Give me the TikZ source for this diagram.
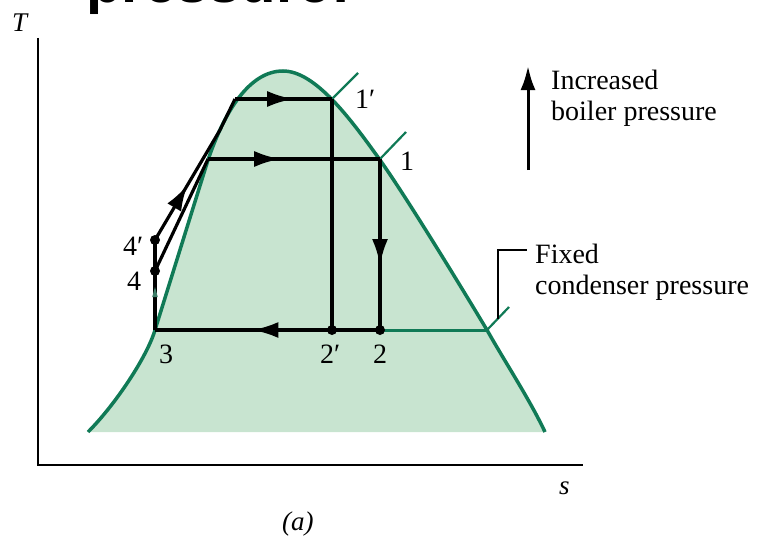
\documentclass[tikz,border=0pt]{standalone}
\usepackage{fontspec}
\setmainfont{Liberation Serif}
\setsansfont{Liberation Sans}
\usetikzlibrary{arrows.meta,decorations.markings}
\definecolor{domeline}{RGB}{16,122,86}
\definecolor{domefill}{RGB}{200,228,208}

\begin{document}
\begin{tikzpicture}[>=Latex,x={(1pt,0pt)},y={(0pt,-1pt)},
  cyc/.style={line width=3.2pt,black},
  midarrow/.style={postaction={decorate},decoration={markings,
    mark=at position #1 with {\arrow{Latex[length=26pt,width=16pt]}}}},
  lbl/.style={anchor=base west,inner sep=0pt,font=\fontsize{28}{30}\selectfont},
  note/.style={anchor=north west,inner sep=0pt,align=left,font=\fontsize{28}{31}\selectfont}]
  \useasboundingbox (0,0) rectangle (757,535);
  \clip (0,0) rectangle (757,535);
  % cut-off slide title
  \node[anchor=base west,inner sep=0pt,font=\fontsize{58}{60}\sffamily\bfseries] (title) at (86,3) {pressure:};
  % axes
  \coordinate (ytop) at (38,38);
  \coordinate (orig) at (38,465);
  \coordinate (xend) at (583,465);
  \draw[line width=2pt] (ytop) -- (orig) -- (xend);
  \node[lbl,font=\fontsize{27}{30}\selectfont\itshape] (Tlab) at (12,32) {T};
  \node[lbl,font=\fontsize{27}{30}\selectfont\itshape] (slab) at (559,494) {s};
  \node[lbl,font=\fontsize{27}{30}\selectfont\itshape] (alab) at (282,530) {(a)};
  % vapour dome
  \fill[domefill] (88,432) .. controls (115,405) and (147,357) .. (155,330) -- (208,160)
    .. controls (225,110) and (250,71) .. (283,71) .. controls (315,71) and (350,118) .. (380,160)
    .. controls (405,195) and (460,285) .. (487,330) .. controls (505,362) and (530,400) .. (545,432) -- cycle;
  \draw[domeline,line width=3.5pt] (88,432) .. controls (115,405) and (147,357) .. (155,330) -- (208,160)
    .. controls (225,110) and (250,71) .. (283,71) .. controls (315,71) and (350,118) .. (380,160)
    .. controls (405,195) and (460,285) .. (487,330) .. controls (505,362) and (530,400) .. (545,432);
  % state points
  \coordinate (p1) at (380,159);
  \coordinate (p1p) at (332,99);
  \coordinate (p2) at (380,330);
  \coordinate (p2p) at (332,330);
  \coordinate (p3) at (155,330);
  \coordinate (p4) at (155,271);
  \coordinate (p4p) at (155,240);
  \coordinate (a1) at (208,159);
  \coordinate (b1) at (220,130);
  \coordinate (b2) at (235,99);
  \coordinate (g) at (487,330);
  % isobar ticks
  \coordinate (t1) at (406,132);
  \coordinate (t1p) at (358,73);
  \coordinate (tg) at (509,307);
  \draw[domeline,line width=2.2pt] (p1) -- (t1) (p1p) -- (t1p) (g) -- (tg);
  \draw[domeline,line width=3pt] (p2) -- (g);
  % cycles
  \draw[cyc] (p3) -- (p4);
  \fill[domeline!60!gray] (155,287) -- (152.2,297) -- (157.8,297) -- cycle;
  \draw[cyc] (p4) -- (p4p);
  \draw[cyc] (p4) -- (a1);
  \draw[cyc,midarrow=0.42] (a1) -- (p1);
  \draw[cyc,midarrow=0.62] (p1) -- (p2);
  \draw[cyc] (p2) -- (p2p);
  \draw[cyc,midarrow=0.45] (p2p) -- (p3);
  \draw[cyc,midarrow=0.5] (p4p) -- (b1);
  \draw[cyc] (b1) -- (b2);
  \draw[cyc,midarrow=0.6] (b2) -- (p1p);
  \draw[cyc] (p1p) -- (p2p);
  \foreach \p in {p2,p2p,p4,p4p} \fill (\p) circle (5pt);
  % point labels
  \node[lbl] (l1) at (400,170) {1};
  \node[lbl] (l1p) at (355,108) {1′};
  \node[lbl] (l2) at (373,363) {2};
  \node[lbl] (l2p) at (320,363) {2′};
  \node[lbl] (l3) at (159,363) {3};
  \node[lbl] (l4) at (127,290) {4};
  \node[lbl] (l4p) at (123,255) {4′};
  % notes
  \coordinate (incb) at (528,170);
  \coordinate (inct) at (528,66);
  \draw[line width=3pt,-{Latex[length=24pt,width=15pt]}] (incb) -- (inct);
  \node[note] (inc) at (551,70) {Increased\\boiler pressure};
  \coordinate (tm) at (498,319);
  \coordinate (lk) at (498,250);
  \coordinate (le) at (527,250);
  \draw[line width=1.2pt] (tm) -- (lk) -- (le);
  \node[note] (fix) at (535,244) {Fixed\\condenser pressure};
\end{tikzpicture}
\end{document}
